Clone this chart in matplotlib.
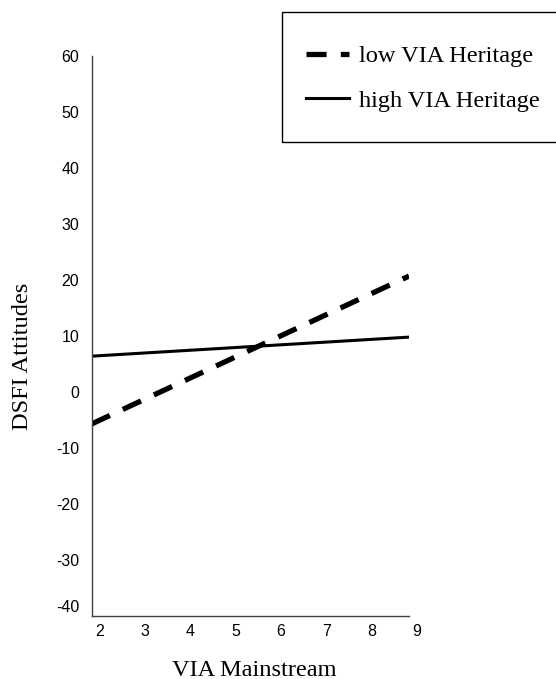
#!/usr/bin/env python3
"""Simple slopes plot: DSFI Attitudes vs VIA Mainstream, by VIA Heritage level."""

import matplotlib
matplotlib.use("Agg")
import matplotlib.pyplot as plt
from matplotlib.patches import Rectangle
from matplotlib.transforms import ScaledTranslation

# values
via_mainstream = [2, 9]
low_heritage = [-5.7, 20.7]
high_heritage = [6.4, 9.8]

x_ticks = [2, 3, 4, 5, 6, 7, 8, 9]
y_ticks = [-40, -30, -20, -10, 0, 10, 20, 30, 40, 50, 60]

W, H, DPI = 556, 679, 100
SERIF = "Liberation Serif"
SANS = "Liberation Sans"

fig = plt.figure(figsize=(W / DPI, H / DPI), dpi=DPI)
# axes box in pixels: x 91.7..409, y 56..616 (from top)
ax = fig.add_axes([91.7 / W, (H - 616) / H, (409 - 91.7) / W, (616 - 56) / H])

ax.plot(via_mainstream, low_heritage, color="black", lw=3.8,
        dashes=(3.8, 2.7), dash_capstyle="butt", label="low VIA Heritage")
ax.plot(via_mainstream, high_heritage, color="black", lw=2.2,
        label="high VIA Heritage")

ax.set_xlim(2, 9)
ax.set_ylim(-40, 60)
ax.set_xticks(x_ticks)
ax.set_yticks(y_ticks)
ax.set_xticklabels([str(v) for v in x_ticks], fontname=SANS, fontsize=11.5)
ax.set_yticklabels([str(v) for v in y_ticks], fontname=SANS, fontsize=11.5)
ax.tick_params(axis="both", length=0, colors="black")
ax.tick_params(axis="y", pad=9)
ax.tick_params(axis="x", pad=5.5)

for side in ("top", "right"):
    ax.spines[side].set_visible(False)
for side in ("left", "bottom"):
    ax.spines[side].set_color("#404040")
    ax.spines[side].set_linewidth(1.0)

ax.set_xlabel("VIA Mainstream", fontname=SERIF, fontsize=17.6, va="baseline")
ax.xaxis.set_label_coords(0.511, (616 - 676) / 560)
ax.set_ylabel("DSFI Attitudes", fontname=SERIF, fontsize=17.6, va="center")
ax.yaxis.set_label_coords((23 - 91.7) / 317.3, (616 - 356.5) / 560)

# legend, boxed by a frame that runs off the right edge
handles, labels = ax.get_legend_handles_labels()
fig.legend(handles, labels, loc="upper left",
           bbox_to_anchor=(306 / W, 1 - 45 / H),
           frameon=False, borderpad=0, borderaxespad=0,
           handlelength=1.76, handletextpad=0.42, labelspacing=0.92,
           prop={"family": SERIF, "size": 17.6})
fig.add_artist(Rectangle((282.3 / W, (H - 141.7) / H), 300 / W, 130 / H,
                         transform=fig.transFigure, fill=False,
                         edgecolor="black", lw=1.0))

# Excel-style label placement: x labels sit a bit right, bottom y label a bit up
shift_x = ScaledTranslation(8 / DPI, 0, fig.dpi_scale_trans)
for lab in ax.get_xticklabels():
    lab.set_transform(lab.get_transform() + shift_x)
shift_y = ScaledTranslation(0, 10 / DPI, fig.dpi_scale_trans)
ylabs = ax.get_yticklabels()
ylabs[0].set_transform(ylabs[0].get_transform() + shift_y)

fig.savefig("out.png", dpi=DPI)
